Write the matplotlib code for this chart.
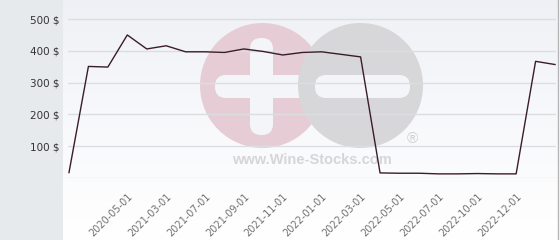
import numpy as np
import matplotlib
matplotlib.use("Agg")
import matplotlib.pyplot as plt
from matplotlib.patches import Circle, FancyBboxPatch, Rectangle
from matplotlib.lines import Line2D

# price history (USD), one value per observation
prices = [17, 351, 349, 450, 406, 416, 397, 397, 395, 406, 398, 387, 395,
          397, 389, 381, 16, 15, 15, 13, 13, 14, 13, 13, 367, 357]

# labelled observations (every second point)
tick_idx = [3, 5, 7, 9, 11, 13, 15, 17, 19, 21, 23]
tick_labels = ["2020-05-01", "2021-03-01", "2021-07-01", "2021-09-01",
               "2021-11-01", "2022-01-01", "2022-03-01", "2022-05-01",
               "2022-07-01", "2022-10-01", "2022-12-01"]

y_ticks = [0, 100, 200, 300, 400, 500]
y_labels = ["", "100 $", "200 $", "300 $", "400 $", "500 $"]

W, H = 560, 240
fig = plt.figure(figsize=(W / 100, H / 100), dpi=100)
fig.patch.set_facecolor("white")

# left grey panel
fig.patches.append(Rectangle((0, 0), 63 / W, 1, transform=fig.transFigure,
                             facecolor="#e6eaed", edgecolor="none", zorder=0))

# gradient background of the chart area
bg = fig.add_axes([63 / W, 0, (558 - 63) / W, 1], zorder=0)
grad = np.linspace(0, 1, 256).reshape(-1, 1)
top = np.array([0.933, 0.941, 0.961])
bot = np.array([1.0, 1.0, 1.0])
img = top + (bot - top) * grad[:, :, None] ** 0.8
bg.imshow(img, aspect="auto", extent=[0, 1, 0, 1], origin="upper")
bg.axis("off")

# watermark (pixel coordinates)
wm = fig.add_axes([0, 0, 1, 1], zorder=1)
wm.set_xlim(0, W)
wm.set_ylim(H, 0)
wm.axis("off")
wm.patch.set_alpha(0)
wm.add_patch(Circle((262.5, 85.5), 62.5, facecolor="#e6cdd5", edgecolor="none"))
wm.add_patch(FancyBboxPatch((250, 38), 23, 97, boxstyle="round,pad=0,rounding_size=11",
                            facecolor="#f4f5f9", edgecolor="none"))
wm.add_patch(FancyBboxPatch((215, 75), 95, 23, boxstyle="round,pad=0,rounding_size=11",
                            facecolor="#f4f5f9", edgecolor="none"))
wm.add_patch(Circle((360.5, 85.5), 62.5, facecolor="#d7d7d9", edgecolor="none"))
wm.add_patch(FancyBboxPatch((315, 75), 95, 23, boxstyle="round,pad=0,rounding_size=11",
                            facecolor="#f4f5f9", edgecolor="none"))
wm.text(312, 160, "www.Wine-Stocks.com", ha="center", va="center",
        fontsize=10.5, fontweight="bold", family="Liberation Sans", color="#d6d6d8")
wm.text(412, 139, "®", ha="center", va="center", fontsize=11,
        family="Liberation Sans", color="#d0d0d2")

# right border
fig.lines.append(Line2D([558 / W, 558 / W], [0, 1], transform=fig.transFigure,
                        color="#b5b5b5", lw=1, zorder=3))

# main chart
ax = fig.add_axes([68 / W, 62 / H, (556 - 68) / W, 178 / H], zorder=2)
ax.patch.set_alpha(0)
x = np.arange(len(prices))
for yv in y_ticks:
    ax.axhline(yv, color="#dcdde0", lw=1, zorder=1)
ax.plot(x, prices, color="#3a1c2a", lw=1, zorder=3)
ax.set_xlim(-0.05, 25.05)
ax.set_ylim(0, 560)
for s in ax.spines.values():
    s.set_visible(False)
ax.set_yticks(y_ticks)
ax.set_yticklabels(y_labels, fontsize=7.5, color="#333333")
ax.set_xticks(tick_idx)
ax.set_xticklabels(tick_labels, rotation=45, ha="right", va="top",
                   rotation_mode="anchor", fontsize=7, color="#707070")
ax.tick_params(axis="y", length=0, pad=6)
ax.tick_params(axis="x", length=0, pad=10)

fig.savefig("out.png", dpi=100)
